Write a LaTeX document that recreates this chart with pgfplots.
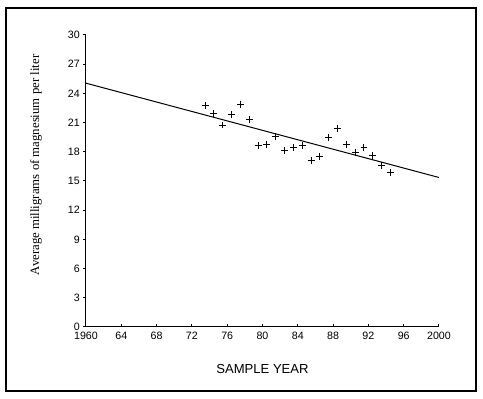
\documentclass[border=0pt]{standalone}
\usepackage{fontspec}
\setmainfont{Liberation Serif}
\newfontfamily\sansf{Liberation Sans}
\usepackage{pgfplots}
\pgfplotsset{compat=1.18}
\begin{document}
\begin{tikzpicture}
\begin{axis}[
  scale only axis,
  width=264.75pt, height=219pt,
  xmin=1960, xmax=2000, ymin=0, ymax=30,
  axis lines=left,
  axis line style={line width=0.75pt, -},
  xtick={1960,1964,1968,1972,1976,1980,1984,1988,1992,1996,2000},
  xticklabels={1960,64,68,72,76,80,84,88,92,96,2000},
  ytick={0,3,6,9,12,15,18,21,24,27,30},
  major tick length=2pt,
  tick align=inside,
  tick style={line width=0.75pt, black},
  ytick style={xshift=-2pt},
  /pgf/number format/assume math mode=true,
  ticklabel style={font=\sansf\fontsize{8}{9}\selectfont},
  xticklabel style={anchor=base, yshift=-9.75pt},
  yticklabel style={anchor=east, inner sep=0pt, xshift=-4.5pt},
  xlabel={SAMPLE YEAR},
  xlabel style={font=\sansf\fontsize{9.8}{11}\selectfont, at={(axis description cs:0.5,0)}, anchor=center, yshift=-31.5pt},
  ylabel={Average milligrams of magnesium per liter},
  ylabel style={font=\fontsize{9.6}{11}\selectfont, at={([xshift=-37.5pt,yshift=12pt]axis description cs:0,0.5)}, anchor=center},
  clip=false,
]
\addplot[only marks, mark=+, mark size=2.6pt, mark options={line width=0.75pt}, black] coordinates {
(1973.5,22.78) (1974.5,21.96) (1975.5,20.75) (1976.5,21.86) (1977.5,22.89)
(1978.5,21.34) (1979.5,18.66) (1980.5,18.76) (1981.5,19.59) (1982.5,18.11)
(1983.5,18.42) (1984.5,18.63) (1985.5,17.11) (1986.5,17.53) (1987.5,19.45)
(1988.5,20.41) (1989.5,18.76) (1990.5,17.97) (1991.5,18.45) (1992.5,17.60)
(1993.5,16.56) (1994.5,15.88)
};
\addplot[black, line width=0.75pt] coordinates {(1960,25.05) (2000,15.36)};
\end{axis}
\draw[line width=0.9pt] (-60pt,-48pt) rectangle (292.5pt,239.25pt);
\useasboundingbox (-64.5pt,-54pt) rectangle (297.75pt,245.25pt);
\end{tikzpicture}
\end{document}
